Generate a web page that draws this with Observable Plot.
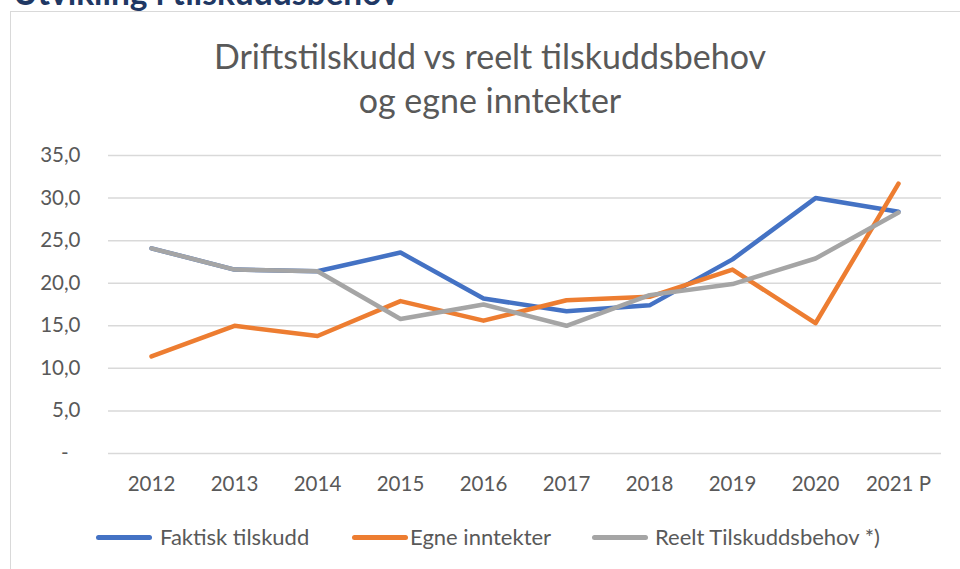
<!DOCTYPE html>
<html>
<head>
<meta charset="utf-8">
<script src="https://cdn.jsdelivr.net/npm/d3@7"></script>
<script src="https://cdn.jsdelivr.net/npm/@observablehq/plot@0.6"></script>
<style>
  html, body { margin: 0; padding: 0; background: #fff; }
  body { width: 960px; height: 569px; overflow: hidden; position: relative; font-family: Lato, "Open Sans", sans-serif; }
  #heading { position: absolute; left: 13px; top: -24px; font-size: 33.5px; line-height: 1; font-weight: 700; color: #1F3864; white-space: nowrap; }
  #frame { position: absolute; left: 10px; top: 11px; width: 980px; height: 600px; border: 1.5px solid #d9d9d9; box-sizing: border-box; }
  #title { position: absolute; left: 0; width: 980px; top: 34px; text-align: center; font-size: 34px; line-height: 44px; color: #595959; }
  #chart { position: absolute; left: 0; top: 130px; }
  #legend { position: absolute; top: 524px; left: 0; width: 960px; height: 26px; font-size: 22px; color: #595959; }
  .sw { position: absolute; top: 11px; width: 56px; height: 5px; border-radius: 3px; }
  .lt { position: absolute; top: 0; line-height: 26px; white-space: nowrap; }
</style>
</head>
<body>
<div id="heading">Utvikling i tilskuddsbehov</div>
<div id="frame"></div>
<div id="title">Driftstilskudd vs reelt tilskuddsbehov<br>og egne inntekter</div>
<div id="chart"></div>
<div id="legend"></div>
<script>
const years = ["2012", "2013", "2014", "2015", "2016", "2017", "2018", "2019", "2020", "2021 P"];
const faktiskTilskudd = [24.1, 21.6, 21.4, 23.6, 18.2, 16.7, 17.4, 22.8, 30.0, 28.4];
const egneInntekter = [11.4, 15.0, 13.8, 17.9, 15.6, 18.0, 18.4, 21.6, 15.3, 31.7];
const reeltTilskuddsbehov = [24.1, 21.6, 21.4, 15.8, 17.5, 15.0, 18.6, 19.9, 22.9, 28.3];
const seriesNames = ["Faktisk tilskudd", "Egne inntekter", "Reelt Tilskuddsbehov *)"];
const seriesColors = ["#4472C4", "#ED7D31", "#A5A5A5"];
const yTicks = [5, 10, 15, 20, 25, 30, 35];
const yZeroTick = [0];

const seriesValues = [faktiskTilskudd, egneInntekter, reeltTilskuddsbehov];
const rows = seriesNames.flatMap((name, i) =>
  years.map((year, j) => ({ series: name, year, value: seriesValues[i][j] }))
);

const fmt = d => d.toFixed(1).replace(".", ",");

const chart = Plot.plot({
  width: 960,
  height: 380,
  marginLeft: 108,
  marginRight: 19,
  marginTop: 25,
  marginBottom: 57,
  style: { fontFamily: "Lato, 'Open Sans', sans-serif", fontSize: "20.5px", color: "#595959", background: "transparent" },
  x: { type: "point", domain: years, padding: 0.5 },
  y: { domain: [0, 35] },
  color: { domain: seriesNames, range: seriesColors },
  marks: [
    Plot.gridY([0, ...yTicks], { stroke: "#d9d9d9", strokeOpacity: 1, strokeWidth: 1.5 }),
    Plot.axisY(yTicks, { tickSize: 0, tickPadding: 28, tickFormat: fmt, label: null }),
    Plot.axisY(yZeroTick, { tickSize: 0, tickPadding: 40, tickFormat: () => "-", label: null }),
    Plot.axisX({ tickSize: 0, tickPadding: 23, label: null }),
    Plot.line(rows, { x: "year", y: "value", z: "series", stroke: "series", strokeWidth: 4.5, strokeLinecap: "round", strokeLinejoin: "round" })
  ]
});
document.getElementById("chart").appendChild(chart);

// legend layout: swatch left and text left for each entry
const legendLayout = [[96, 160], [352, 410], [592, 655]];
const legend = document.getElementById("legend");
seriesNames.forEach((name, i) => {
  const sw = document.createElement("span");
  sw.className = "sw";
  sw.style.left = legendLayout[i][0] + "px";
  sw.style.background = seriesColors[i];
  legend.appendChild(sw);
  const t = document.createElement("span");
  t.className = "lt";
  t.style.left = legendLayout[i][1] + "px";
  t.textContent = name;
  legend.appendChild(t);
});
</script>
</body>
</html>
